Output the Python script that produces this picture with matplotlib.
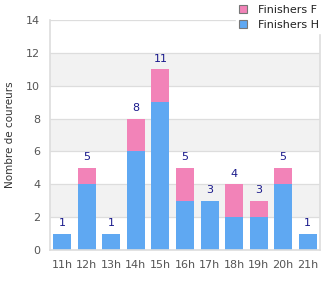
import matplotlib
matplotlib.use("Agg")
import matplotlib.pyplot as plt
from matplotlib.patches import Patch

categories = ["11h", "12h", "13h", "14h", "15h", "16h", "17h", "18h", "19h", "20h", "21h"]
hommes = [1, 4, 1, 6, 9, 3, 3, 2, 2, 4, 1]
femmes = [0, 1, 0, 2, 2, 2, 0, 2, 1, 1, 0]
yticks = [0, 2, 4, 6, 8, 10, 12, 14]

blue = "#5fa8f2"
pink = "#f283b8"
grid_c = "#dddddd"
txt_c = "#555555"
lab_c = "#1a1a8c"

fig = plt.figure(figsize=(3.3, 3.0), dpi=100)
ax = fig.add_axes([50/330, 50/300, 270/330, 230/300])
x = list(range(len(categories)))
ax.set_xlim(-0.5, len(categories) - 0.5)
ax.set_ylim(0, 14)

# alternating bands
for lo in range(0, 14, 2):
    if (lo // 2) % 2 == 1:
        ax.axhspan(lo, lo + 2, color="#f2f2f2", zorder=0, lw=0)
for y in yticks:
    ax.axhline(y, color=grid_c, lw=0.9, zorder=1)

w = 0.73
ax.bar(x, hommes, width=w, color=blue, zorder=2, lw=0)
ax.bar(x, femmes, width=w, bottom=hommes, color=pink, zorder=2, lw=0)
for xi, h, f in zip(x, hommes, femmes):
    ax.text(xi, h + f + 0.35, str(h + f), ha="center", va="bottom",
            fontsize=8, color=lab_c, zorder=3)

ax.set_xticks(x)
ax.set_xticklabels(categories)
ax.set_yticks(yticks)
ax.tick_params(axis="both", length=0, labelsize=8, colors=txt_c)
ax.tick_params(axis="x", pad=7)
ax.tick_params(axis="y", pad=7)
ax.spines["top"].set_visible(False)
for s in ["left", "bottom", "right"]:
    ax.spines[s].set_color(grid_c)
    ax.spines[s].set_linewidth(1.2)
ax.set_ylabel("Nombre de coureurs", fontsize=7.5, color="#333333", labelpad=8)

handles = [Patch(facecolor=pink, edgecolor="#777777", lw=0.8),
           Patch(facecolor=blue, edgecolor="#777777", lw=0.8)]
leg = fig.legend(handles, ["Finishers F", "Finishers H"], loc="upper right",
                 bbox_to_anchor=(0.995, 1.012), fontsize=8, frameon=True,
                 handlelength=0.75, handleheight=0.75, handletextpad=1.0,
                 labelspacing=0.4, borderpad=0.3)
leg.get_frame().set_facecolor("white")
leg.get_frame().set_edgecolor("white")
leg.get_frame().set_alpha(1)
for t in leg.get_texts():
    t.set_color("#222222")

fig.savefig("out.png", dpi=100)
